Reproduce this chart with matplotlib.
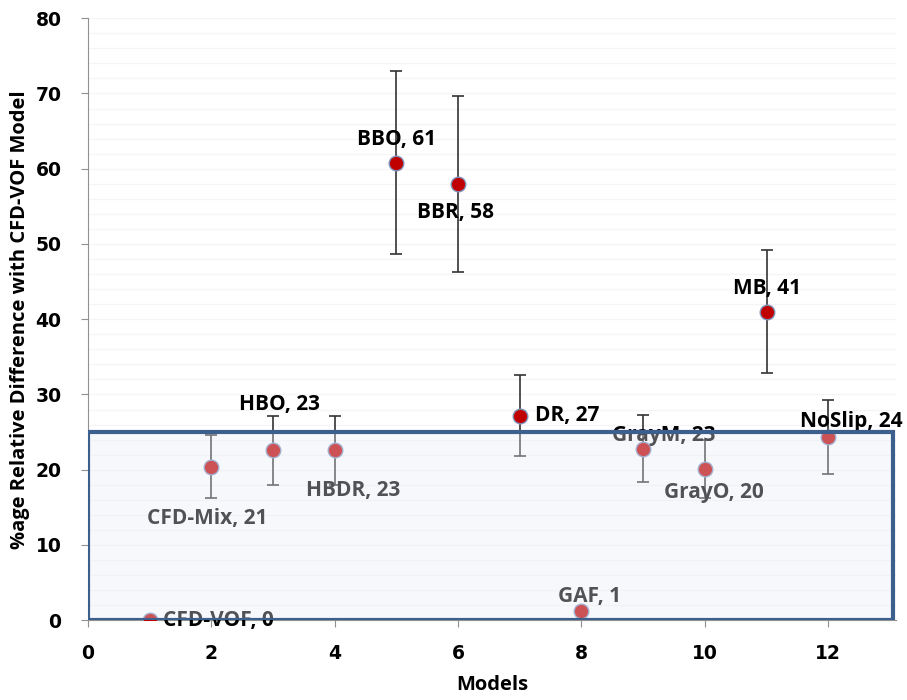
import matplotlib
matplotlib.use("Agg")
import matplotlib.pyplot as plt
from matplotlib.patches import Rectangle

models = [1, 2, 3, 4, 5, 6, 7, 8, 9, 10, 11, 12]
names = ["CFD-VOF", "CFD-Mix", "HBO", "HBDR", "BBO", "BBR", "DR", "GAF",
         "GrayM", "GrayO", "MB", "NoSlip"]
values = [0.0, 20.4, 22.6, 22.6, 60.8, 58.0, 27.2, 1.2, 22.8, 20.1, 41.0, 24.3]
label_vals = [0, 21, 23, 23, 61, 58, 27, 1, 23, 20, 41, 24]
errors = [0.0, 4.2, 4.6, 4.6, 12.2, 11.7, 5.4, 0.0, 4.5, 3.9, 8.2, 4.9]

# label placement (data coords) and alignment
label_x = [1.22, 1.93, 3.1, 4.3, 5.0, 5.96, 7.25, 8.13, 9.33, 10.15, 11.0, 12.38]
label_y = [0.0, 13.5, 28.6, 17.3, 63.9, 54.2, 27.2, 3.1, 24.6, 17.0, 44.1, 26.4]
label_ha = ["left", "center", "center", "center", "center", "center", "left",
            "center", "center", "center", "center", "center"]

box_ymax = 25

fig = plt.figure(figsize=(9.07, 7.0), dpi=100)
ax = fig.add_axes([0.097, 0.114, 0.891, 0.86])

ax.set_xlim(0, 13.1)
ax.set_ylim(0, 80)

# faint gridlines
for gy in range(0, 81, 2):
    ax.axhline(gy, color="#f5f5f5", lw=1.0, zorder=0)

ax.errorbar(models, values, yerr=errors, fmt="none", ecolor="#333333",
            elinewidth=1.2, capsize=4, capthick=1.2, zorder=2)
ax.scatter(models, values, s=110, color="#C00000", edgecolor="#7f8fb8",
           linewidth=1.0, zorder=3)

for xl, yl, n, v, ha in zip(label_x, label_y, names, label_vals, label_ha):
    ax.text(xl, yl, f"{n}, {v}", ha=ha, va="center", fontsize=15,
            fontweight="bold", family="Open Sans", color="black", zorder=4)

rect = Rectangle((0, 0), 13.05, box_ymax, facecolor="#e8edf7", alpha=0.35,
                 edgecolor="none", zorder=5)
ax.add_patch(rect)
rect2 = Rectangle((0, 0), 13.05, box_ymax, facecolor="none",
                  edgecolor="#3d5f8e", linewidth=3, zorder=6)
ax.add_patch(rect2)

for s in ["top", "right"]:
    ax.spines[s].set_visible(False)
ax.spines["left"].set_color("#909090")
ax.spines["bottom"].set_color("#909090")

ax.set_xticks(range(0, 13, 2))
ax.set_yticks(range(0, 81, 10))
ax.tick_params(axis="both", length=5, color="#909090", labelsize=13.5)
for lab in ax.get_xticklabels() + ax.get_yticklabels():
    lab.set_fontweight("bold")
ax.tick_params(axis="x", pad=12)
ax.tick_params(axis="y", pad=14)

ax.set_xlabel("Models", fontsize=14.5, fontweight="bold", family="Open Sans",
              labelpad=9)
ax.set_ylabel("%age Relative Difference with CFD-VOF Model", fontsize=14.5,
              fontweight="bold", family="Open Sans", labelpad=4)

fig.savefig("out.png", dpi=100)
